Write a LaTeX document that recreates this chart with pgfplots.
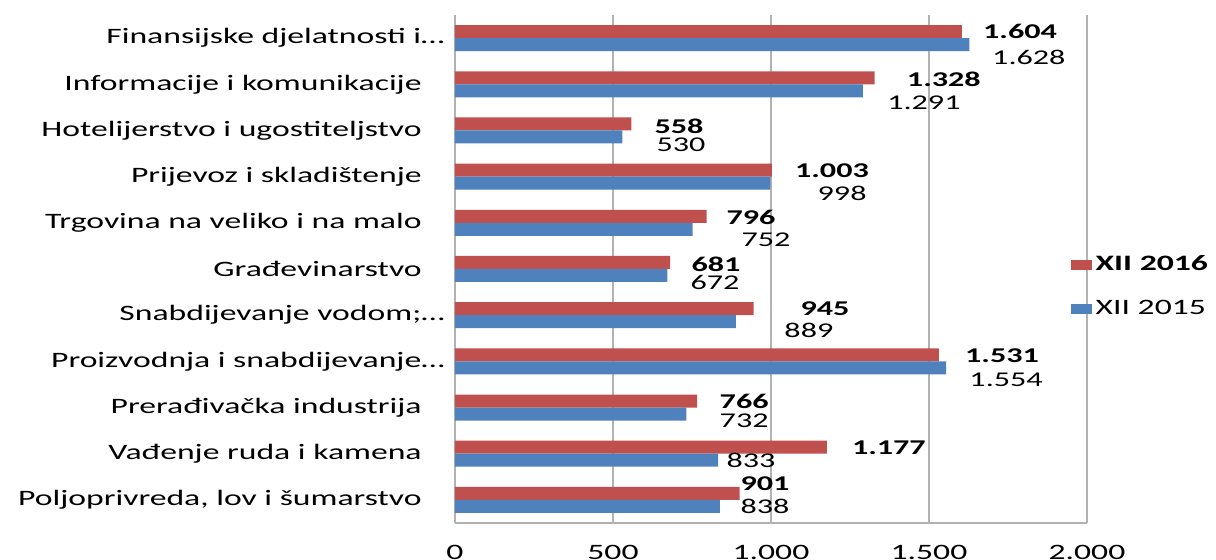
\documentclass[border=0pt]{standalone}
\usepackage{fontspec}
\setmainfont{Carlito}[FakeStretch=1.53]
\usepackage{pgfplots}
\pgfplotsset{compat=1.18}
\usepackage{pgfplotstable}
\definecolor{r16}{RGB}{192,80,77}
\definecolor{b15}{RGB}{79,129,189}
\definecolor{gridc}{RGB}{178,178,178}

\pgfplotstableread{
idx v16 v15
0 901 838
1 1177 833
2 766 732
3 1531 1554
4 945 889
5 681 672
6 796 752
7 1003 998
8 558 530
9 1328 1291
10 1604 1628
}\datatable

\pgfplotstableread{
lx ly lab
981 0.344 901
1373 1.124 1.177
915 2.130 766
1731 3.116 1.531
1171 4.134 945
826 5.108 681
937 6.126 796
1193 7.122 1.003
709 8.096 558
1547 9.114 1.328
1788 10.154 1.604
}\labsixteen

\pgfplotstableread{
lx ly lab
981 -0.132 838
937 0.864 833
915 1.705 732
1744 2.596 1.554
1120 3.679 889
823 4.697 672
984 5.628 752
1225 6.646 998
715 7.685 530
1484 8.594 1.291
1816 9.591 1.628
}\labfifteen

\newcommand{\lblfont}{\fontsize{11}{13}\selectfont}
\newcommand{\valfont}{\fontsize{10.5}{12}\selectfont}

\begin{document}
\begin{tikzpicture}
\path[use as bounding box] (0,0) rectangle (608pt,280pt);
\begin{axis}[
  at={(227.5pt,18.5pt)}, anchor=south west,
  scale only axis, width=316pt, height=254pt,
  xmin=0, xmax=2000, ymin=-0.5, ymax=10.5,
  xtick={0,500,1000,1500,2000},
  ytick={0,1,2,3,4,5,6,7,8,9,10},
  yticklabels={
    {Poljoprivreda, lov i šumarstvo\hspace*{11.5pt}},
    {Vađenje ruda i kamena\hspace*{11.5pt}},
    {Prerađivačka industrija\hspace*{11.5pt}},
    {Proizvodnja i snabdijevanje…},
    {Snabdijevanje vodom;…},
    {Građevinarstvo\hspace*{11.5pt}},
    {Trgovina na veliko i na malo\hspace*{11.5pt}},
    {Prijevoz i skladištenje\hspace*{11.5pt}},
    {Hotelijerstvo i ugostiteljstvo\hspace*{11.5pt}},
    {Informacije i komunikacije\hspace*{11.5pt}},
    {Finansijske djelatnosti i…}},
  axis x line*=bottom, axis y line*=left,
  axis line style={gridc, line width=1pt, -},
  xmajorgrids, grid style={gridc, line width=1pt},
  major tick style={draw=none}, minor tick style={draw=none},
  xticklabel style={anchor=north, inner sep=0pt, yshift=-11pt, font=\lblfont, text=black},
  yticklabel style={anchor=east, inner sep=0pt, xshift=-5pt, font=\lblfont, text=black},
  /pgf/number format/1000 sep={.},
  /pgf/number format/assume math mode=true,
  scaled x ticks=false,
  clip=false,
  legend style={at={(0.9735,0.4655)}, anchor=west, draw=none, fill=none,
    inner sep=0pt, row sep=9pt, font=\lblfont, legend cell align=left,
    /tikz/every even column/.append style={column sep=4.5pt}},
  legend image code/.code={\fill (0pt,-2.5pt) rectangle (10.5pt,2.5pt);},
]
\addplot[xbar, bar width=6.5pt, bar shift=3.25pt, fill=r16, draw=none]
  table[x=v16, y=idx] {\datatable};
\addlegendentry{\textbf{XII 2016}}
\addplot[xbar, bar width=6.5pt, bar shift=-3.25pt, fill=b15, draw=none]
  table[x=v15, y=idx] {\datatable};
\addlegendentry{XII 2015}

\addplot[draw=none, mark=none, forget plot, point meta=explicit symbolic,
  nodes near coords={\textbf{\pgfplotspointmeta}},
  nodes near coords style={anchor=center, inner sep=0pt, text=black, font=\valfont}]
  table[x=lx, y=ly, meta=lab] {\labsixteen};
\addplot[draw=none, mark=none, forget plot, point meta=explicit symbolic,
  nodes near coords={\pgfplotspointmeta},
  nodes near coords style={anchor=center, inner sep=0pt, text=black, font=\valfont}]
  table[x=lx, y=ly, meta=lab] {\labfifteen};
\end{axis}
\end{tikzpicture}
\end{document}
